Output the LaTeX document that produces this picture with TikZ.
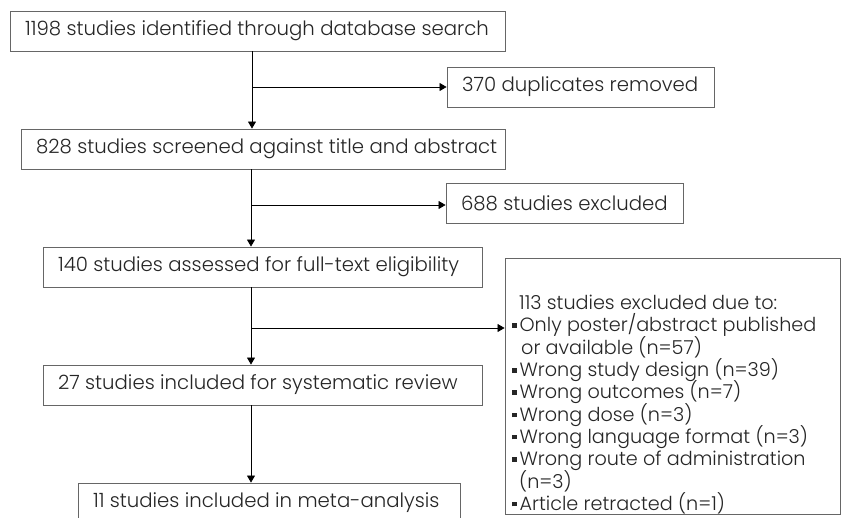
\documentclass[tikz,border=0pt]{standalone}
\usepackage{fontspec}
\setmainfont{Poppins}[UprightFont={* Light}]
\usetikzlibrary{arrows.meta}
\newcommand\lbox[2]{\makebox[#1][l]{#2}}
\newcommand\bul{\rule[4pt]{4.6pt}{4.6pt}\hspace{2.8pt}}
\newcommand\listfont{\fontsize{19.2pt}{22.3pt}\selectfont\lineskiplimit=-100pt\relax\lineskip=0pt\relax}
\begin{document}
\begin{tikzpicture}[x=1pt,y=-1pt,
  box/.style={draw=black!60, line width=0.9pt, minimum height=40pt, inner xsep=15pt, inner ysep=0pt,
    text=black!85, font=\fontsize{19.7pt}{22pt}\selectfont},
  arr/.style={-{Triangle[length=7pt,width=8pt]}, line width=0.8pt, black}]
\useasboundingbox (0,0) rectangle (841,517);
\clip (0,0) rectangle (841,517);
\fill[white] (0,0) rectangle (841,517);

\node[box] (b1) at (257.5,31) {\lbox{465pt}{1198 studies identified through database search}};
\node[box] (b2) at (580.5,87) {\lbox{237pt}{370 duplicates removed}};
\node[box] (b3) at (263,149) {\lbox{454pt}{828 studies screened against title and abstract}};
\node[box] (b4) at (564.5,203) {\lbox{207pt}{688 studies excluded}};
\node[box] (b5) at (262.5,267) {\lbox{409pt}{140 studies assessed for full-text eligibility}};
\node[box, minimum width=335pt, minimum height=256pt] (b6) at (672.5,386) {};
\node[anchor=north west, align=left, inner sep=0pt, text=black!85,
  font=\listfont] (b6t) at (512,295) {%
\hspace*{7pt}113 studies excluded due to:\\
\bul Only poster/abstract published\\
\hspace*{9pt}or available (n=57)\\
\bul Wrong study design (n=39)\\
\bul Wrong outcomes (n=7)\\
\bul Wrong dose (n=3)\\
\bul Wrong language format (n=3)\\
\bul Wrong route of administration\\
\hspace*{7pt}(n=3)\\
\bul Article retracted (n=1)};
\node[box] (b7) at (262.5,385) {\lbox{409pt}{27 studies included for systematic review}};
\node[box] (b8) at (269,503) {\lbox{352pt}{11 studies included in meta-analysis}};

\coordinate (j1) at (252,87);
\coordinate (j2) at (251,205);
\coordinate (j3) at (251,328);

\draw[arr] (b1.south -| j1) -- (b3.north -| j1);
\draw[arr] (j1) -- (b2.west);
\draw[arr] (b3.south -| j2) -- (b5.north -| j2);
\draw[arr] (j2) -- (b4.west |- j2);
\draw[arr] (b5.south -| j3) -- (b7.north -| j3);
\draw[arr] (j3) -- (b6.west |- j3);
\draw[arr] (b7.south -| j3) -- (b8.north -| j3);
\end{tikzpicture}
\end{document}
